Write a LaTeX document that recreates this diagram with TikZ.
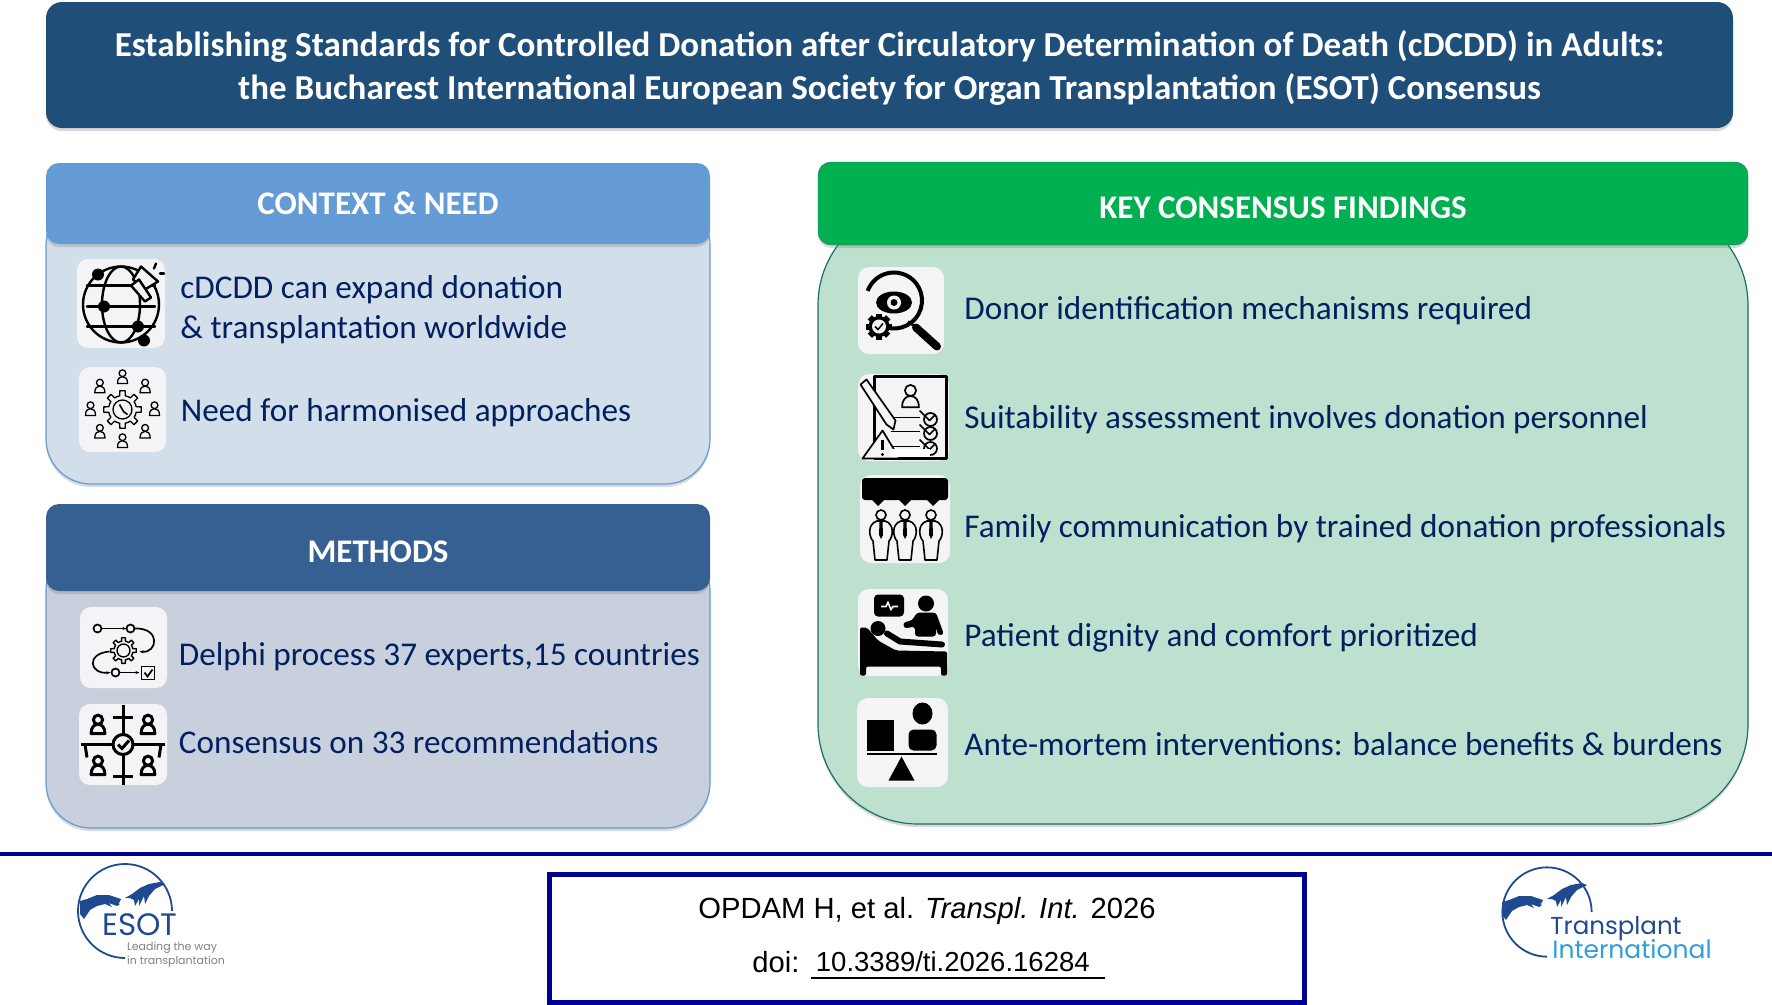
\documentclass[tikz,border=0pt]{standalone}
\usepackage{fontspec}
\setmainfont{Carlito}
\newfontfamily\citefont{Liberation Sans}
\newfontfamily\logofont{Poppins}
\usepackage{tikz}
\usetikzlibrary{arrows.meta, positioning, shadows}
\definecolor{titleblue}{HTML}{1F4E79}
\definecolor{contextblue}{HTML}{659BD5}
\definecolor{contextbody}{HTML}{D2DEEA}
\definecolor{methodsblue}{HTML}{376092}
\definecolor{methodsbody}{HTML}{C9D0DD}
\definecolor{findgreen}{HTML}{00B050}
\definecolor{findbody}{HTML}{BEE0CE}
\definecolor{findline}{HTML}{1B6E6A}
\definecolor{itemnavy}{HTML}{002060}
\definecolor{rulenavy}{HTML}{000090}
\definecolor{tilefill}{HTML}{F4F4F6}
\definecolor{logoblue}{HTML}{1F4A92}
\definecolor{logosky}{HTML}{2E9FD8}
\tikzset{
  softshadow/.style = {drop shadow={shadow xshift=0pt, shadow yshift=-3pt, opacity=.3}},
  titlebox/.style   = {rectangle, rounded corners=16pt, fill=titleblue, text=white,
                       minimum width=1687pt, minimum height=126pt, align=center,
                       font=\fontsize{35}{43}\selectfont\bfseries, softshadow},
  header/.style     = {rectangle, rounded corners=13pt, text=white, inner sep=0pt,
                       font=\fontsize{33}{36}\selectfont\bfseries, softshadow},
  lowered/.style    = {text height=29pt, text depth=0pt},
  panel/.style      = {rectangle, rounded corners=45pt, line width=1.2pt, inner sep=0pt,
                       softshadow},
  tile/.style       = {rectangle, rounded corners=11pt, fill=tilefill, inner sep=0pt},
  itemtext/.style   = {text=itemnavy, inner sep=0pt, align=left,
                       font=\fontsize{33.2}{39.5}\selectfont},
  citetext/.style   = {font=\fontsize{29.2}{34}\selectfont\citefont, inner sep=0pt},
  iconline/.style   = {line width=2.4pt, line cap=round, line join=round},
  pics/personmark/.style = {code={
    \draw (0,-5) circle (4);
    \draw[line join=round] (-6,7) .. controls (-6,1) and (-3,-1) .. (0,-1)
      .. controls (3,-1) and (6,1) .. (6,7) -- cycle;
  }},
  pics/gearmark/.style = {code={
    \foreach \a in {0,45,...,315}
      \fill[rotate=\a] (-3,-13) rectangle (3,-9);
    \fill (0,0) circle (10.5);
    \fill[tilefill] (0,0) circle (7);
  }},
  pics/gearline/.style = {code={
    \foreach \a in {0,45,...,315}
      \draw[rotate=\a, line join=round] (-22.5:14) -- (-11:14) -- (-8:19) -- (8:19) -- (11:14) -- (22.5:14);
    \draw (0,0) circle (9.5);
  }},
  pics/hands/.style = {code={
    \fill[logoblue] (-45,-10) -- (-38,-12) -- (-28,-16) -- (-16,-16) -- (-4,-12) -- (-6,-8)
      -- (-13,-11) -- (-5,-7) -- (-8,-5) -- (-16,-8) -- (-13,-4) -- (-20,-7) -- (-28,-5)
      -- (-35,-1) -- (-41,8) -- (-45,3) -- cycle;
    \fill[logoblue] (35,-29) -- (24,-27) -- (15,-23) -- (7,-17) -- (0,-13) -- (5,-13) -- (9,-11)
      -- (10,-5) -- (14,-12) -- (14,-5) -- (19,-15) -- (20,-7) -- (24,-15) -- (30,-22)
      -- (40,-27) -- cycle;
  }},
}
\begin{document}
\begin{tikzpicture}[x=1pt, y=-1pt]
    \useasboundingbox (0,0) rectangle (1772,1004);

    % title
    \node[titlebox] (title) at (889.5,65)
      {\rule{0pt}{31pt}Establishing Standards for Controlled Donation after Circulatory Determination of Death (cDCDD) in Adults:\\
       the Bucharest International European Society for Organ Transplantation (ESOT) Consensus};

    % left panels
    \node[panel, draw=contextblue, fill=contextbody, minimum width=664pt, minimum height=284pt]
      (contextpanel) at (378,342) {};
    \node[header, fill=contextblue, minimum width=664pt, minimum height=81pt]
      (context) at (378,203.5) {CONTEXT \& NEED};

    \node[panel, draw=contextblue, fill=methodsbody, minimum width=664pt, minimum height=283pt]
      (methodspanel) at (378,686.5) {};
    \node[header, lowered, fill=methodsblue, minimum width=664pt, minimum height=87pt]
      (methods) at (378,547.5) {METHODS};

    % right panel
    \node[panel, rounded corners=100pt, draw=findline, fill=findbody, minimum width=930pt, minimum height=619pt]
      (findpanel) at (1283,514.5) {};
    \node[header, lowered, draw=findline, fill=findgreen, minimum width=930pt, minimum height=83pt]
      (findings) at (1283,203.5) {KEY CONSENSUS FINDINGS};

    % tiles
    \node[tile, minimum width=88pt, minimum height=89pt] (tglobe)   at (121,303.5) {};
    \node[tile, minimum width=87pt, minimum height=85pt] (tpeople)  at (122.5,409.5) {};
    \node[tile, minimum width=87pt, minimum height=81pt] (tdelphi)  at (123.5,647.5) {};
    \node[tile, minimum width=88pt, minimum height=81pt] (tagree)   at (123,744.5) {};
    \node[tile, minimum width=86pt, minimum height=87pt] (teye)     at (901,310.5) {};
    \node[tile, minimum width=91pt, minimum height=87pt] (tsuit)    at (903.5,417.5) {};
    \node[tile, minimum width=90pt, minimum height=88pt] (tfamily)  at (905,519) {};
    \node[tile, minimum width=90pt, minimum height=87pt] (tpatient) at (903,632.5) {};
    \node[tile, minimum width=91pt, minimum height=89pt] (tbalance) at (902.5,742.5) {};

    % item texts
    \node[itemtext, right=15pt of tglobe, yshift=-6pt] (globetext)
      {cDCDD can expand donation\\\& transplantation worldwide};
    \node[itemtext, right=14.5pt of tpeople, yshift=-3.5pt] (peopletext) {Need for harmonised approaches};
    \node[itemtext, right=11.5pt of tdelphi, yshift=-9.5pt] (delphitext) {Delphi process 37 experts,15 countries};
    \node[itemtext, right=11.5pt of tagree, yshift=2pt] (agreetext) {Consensus on 33 recommendations};
    \node[itemtext, right=20pt of teye, yshift=-0.5pt] (eyetext) {Donor identification mechanisms required};
    \node[itemtext, right=15pt of tsuit, yshift=-2.5pt] (suittext) {Suitability assessment involves donation personnel};
    \node[itemtext, right=14pt of tfamily, yshift=-9.5pt] (familytext) {Family communication by trained donation professionals};
    \node[itemtext, right=16pt of tpatient, yshift=-5.5pt] (patienttext) {Patient dignity and comfort prioritized};
    \node[itemtext, right=16pt of tbalance, yshift=-2pt] (balancetext) {Ante-mortem interventions: balance benefits \& burdens};

    % footer
    \coordinate (ruleleft) at (0,854);
    \coordinate (ruleright) at (1772,854);
    \draw[rulenavy, line width=4.5pt] (ruleleft) -- (ruleright);
    \node[rectangle, draw=rulenavy, line width=4.5pt, minimum width=755pt, minimum height=128pt]
      (citebox) at (927,938.5) {};
    \node[citetext] (cite) at (927,910.5) {OPDAM H, et al. \textit{Transpl. Int.} 2026};
    \node[citetext] (doilabel) at (776,962) {doi:};
    \node[citetext, font=\fontsize{27.5}{34}\selectfont\citefont, inner ysep=6pt, right=16pt of doilabel] (doinum) {10.3389/ti.2026.16284};
    \draw[line width=2pt] ([xshift=-5pt]doinum.south west) -- ([xshift=15pt]doinum.south east);

    % globe icon
    \begin{scope}[shift={(tglobe.center)}, iconline]
      \draw (0,1) circle (38);
      \draw (0,1) ellipse (19 and 38);
      \foreach \y in {-18,3,23}
        \draw (-34,\y) -- (34,\y);
      \fill (-23,-29) circle (6);
      \fill (-17,3) circle (6);
      \fill (17,23) circle (6);
      \fill (23,37) circle (6);
      \draw[fill=tilefill] (20,-37) -- (37,-22) -- (24,-14) -- (12,-24) -- cycle;
      \draw[fill=tilefill] (10,-18) -- (18,-24) -- (30,-6) -- (24,-2) -- cycle;
      \draw (35,-40) -- (33,-35);
      \draw (39,-30) -- (43,-30);
    \end{scope}

    % people around a gear
    \begin{scope}[shift={(tpeople.center)}, line width=1.3pt]
      \pic {gearline};
      \draw[line width=1.6pt] (-3,-5) -- (1,2) -- (5,5);
      \foreach \a in {0,45,...,315}
        \pic[scale=.85] at (\a:32) {personmark};
    \end{scope}

    % process icon
    \begin{scope}[shift={(tdelphi.center)}, line width=1.7pt]
      \draw (-26,-19) circle (4);
      \draw[-{Stealth[length=4pt]}] (-22,-19) -- (3,-19);
      \draw (7,-19) circle (4);
      \draw[-{Stealth[length=4pt]}] (11,-19) .. controls (38,-20) and (34,6) .. (16,4);
      \pic[scale=.68, line width=1.4pt] at (0,3) {gearline};
      \draw[-{Stealth[length=4pt]}] (-14,4) .. controls (-38,6) and (-34,27) .. (-13,25);
      \draw (-8,25) circle (4);
      \draw[-{Stealth[length=4pt]}] (-4,25) -- (16,25);
      \draw (18,19) rectangle (31,32);
      \draw (21,25) -- (24,29) -- (29,22);
    \end{scope}

    % round table icon
    \begin{scope}[shift={(tagree.center)}, line width=3pt]
      \draw (-42,0) -- (-10,0) (10,0) -- (42,0) (0,-40) -- (0,-10) (0,10) -- (0,40);
      \draw (0,0) circle (10);
      \draw (-5,0) -- (-1,4) -- (6,-4);
      \draw (-10,-27) -- (10,-27) (-10,32) -- (10,32);
      \draw (-38,0) -- (-36,13) (38,0) -- (36,13);
      \foreach \x/\y in {-25/-19,25/-19,-25/22,25/22}
        \pic[scale=1.15] at (\x,\y) {personmark};
    \end{scope}

    % magnifier icon
    \begin{scope}[shift={(teye.center)}]
      \draw[line width=4pt] (-7,-10) ++(130:28) arc[start angle=130, end angle=-160, radius=28];
      \fill (-7,-8) ellipse (18 and 11);
      \fill[tilefill] (-7,-8) circle (7);
      \fill (-7,-8) circle (3.5);
      \draw[line width=2.5pt] (7,11) -- (14,16);
      \draw[line width=8pt, line cap=round] (15,17) -- (36,36);
      \pic at (-22,16) {gearmark};
      \draw[line width=1.5pt] (-26,16) -- (-23,19) -- (-18,13);
    \end{scope}

    % checklist icon
    \begin{scope}[shift={(tsuit.center)}, line width=1.7pt, line join=round]
      \draw[line width=2.2pt] (-29,-41) rectangle (43,41);
      \pic[scale=1.4] at (7,-20) {personmark};
      \foreach \y in {0,14,29} {
        \draw (-13,\y) -- (16,\y);
        \draw (27,\y+2) circle (6.5);
        \draw (16,\y-7) -- (26,\y+3) -- (31,\y-2);
      }
      \draw[fill=tilefill] (-43,-33) -- (-37,-38) -- (-8,3) -- (-10,12) -- (-17,7) -- cycle;
      \draw[fill=tilefill] (-21,13) -- (-41,41) -- (-4,41) -- cycle;
      \draw[line width=2.5pt] (-21,22) -- (-21,32);
      \fill (-21,37) circle (1.7);
      \fill[white] (-13,31) rectangle (26,39);
    \end{scope}

    % family icon
    \begin{scope}[shift={(tfamily.center)}]
      \fill[rounded corners=3pt] (-43,-41) rectangle (43,-19);
      \foreach \x in {-27,0,28}
        \fill (\x-7,-20) -- (\x,-13) -- (\x+7,-20) -- cycle;
      \foreach \x in {-24,0,26} {
        \draw[line width=1.6pt] (\x,-4) circle (5);
        \draw[line width=1.6pt, line join=round] (\x-4,2) .. controls (\x-14,5) and (\x-12,18) .. (\x-8,22)
          -- (\x-6,41) -- (\x+6,41) -- (\x+8,22) .. controls (\x+12,18) and (\x+14,5) .. (\x+4,2) -- cycle;
        \fill (\x-1.5,3) -- (\x+1.5,3) -- (\x+2,16) -- (\x,20) -- (\x-2,16) -- cycle;
      }
    \end{scope}

    % patient icon
    \begin{scope}[shift={(tpatient.center)}]
      \fill[rounded corners=4pt] (-29,-38) rectangle (1,-16);
      \draw[tilefill, line width=1.6pt] (-22,-26) -- (-17,-26) -- (-15,-30) -- (-12,-23) -- (-10,-26) -- (-5,-26);
      \fill (23,-29) circle (8);
      \fill[rounded corners=3pt] (0,-10) -- (9,-12) -- (14,-20) -- (33,-20) -- (41,2) -- (35,3) -- (33,-6)
        -- (33,4) -- (12,4) -- (12,-6) -- (1,-4) -- cycle;
      \fill (-25,-4) circle (7.5);
      \draw[line width=6pt, line cap=round] (-16,1) -- (-3,9) -- (39,12);
      \fill[rounded corners=2pt] (-43,-5) -- (-36,-5) -- (-25,8) -- (-7,18) -- (44,19) -- (44,43) -- (38,43)
        -- (38,34) -- (-37,34) -- (-37,43) -- (-43,43) -- cycle;
    \end{scope}

    % balance icon
    \begin{scope}[shift={(tbalance.center)}]
      \fill (-36,-23) rectangle (-9,8);
      \fill (20,-29) ellipse (10 and 11);
      \fill[rounded corners=5pt] (6,8) -- (6,-13) -- (34,-13) -- (34,8) -- cycle;
      \draw[line width=2.4pt] (-36,11.5) -- (34,11.5);
      \fill (-1,14) -- (-14,38) -- (12,38) -- cycle;
    \end{scope}

    % esot logo
    \begin{scope}[shift={(125,911)}]
      \draw[logoblue, line width=1.8pt] (47,0) arc[start angle=0, end angle=-270, radius=47];
      \pic {hands};
    \end{scope}
    \node[inner sep=0pt, text=logoblue, font=\fontsize{31}{32}\selectfont\logofont] (esot) at (140,925) {ESOT};
    \node[inner sep=0pt, text=gray, align=left, font=\fontsize{11}{14}\selectfont\logofont] (esottag) at (176,955)
      {Leading the way\\in transplantation};

    % journal logo
    \begin{scope}[shift={(1547,912)}, scale=.95]
      \draw[logoblue, line width=1.8pt] (47,0) arc[start angle=0, end angle=-270, radius=47];
      \pic {hands};
    \end{scope}
    \node[inner sep=0pt, text=logoblue, font=\fontsize{24.5}{28}\selectfont\logofont] (jtrans) at (1616,929) {Transplant};
    \node[inner sep=0pt, text=logosky, font=\fontsize{25}{28}\selectfont\logofont] (jinter) at (1632,949) {International};

  \end{tikzpicture}
\end{document}
